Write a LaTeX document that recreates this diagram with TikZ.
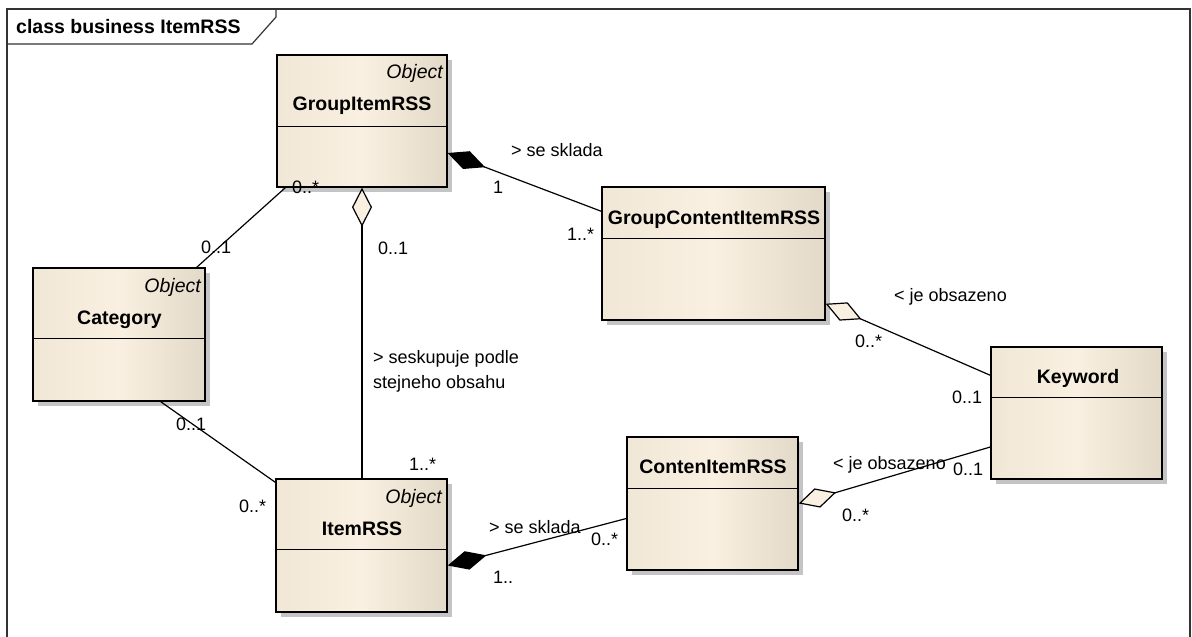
\documentclass[tikz,border=0pt]{standalone}
\usepackage{fontspec}
\setmainfont{Liberation Sans}
\usetikzlibrary{arrows.meta,shadows}

\definecolor{classleft}{HTML}{F1E7D7}
\definecolor{classmid}{HTML}{FAF0E1}
\definecolor{classright}{HTML}{E3D9C8}
\definecolor{shadowgray}{HTML}{C4C4C4}

\tikzstyle{classbox}=[draw,line width=1.4pt,inner sep=0pt,left color=classleft,right color=classright,middle color=classmid,drop shadow={shadow xshift=5pt,shadow yshift=-5pt,fill=shadowgray,opacity=1}]
\tikzstyle{clsname}=[font=\bfseries\fontsize{19.5}{22}\selectfont,inner sep=0pt,anchor=base]
\tikzstyle{stereo}=[font=\itshape\fontsize{19.5}{22}\selectfont,inner sep=0pt,anchor=base east]
\tikzstyle{mult}=[font=\fontsize{18}{25}\selectfont,inner sep=0pt,anchor=base west]
\tikzstyle{divider}=[draw,line width=1.4pt]
\tikzstyle{assoc}=[draw,line width=1.2pt]
\tikzstyle{compose}=[assoc,{Diamond[length=40pt,width=19pt,fill=black]}-]
\tikzstyle{aggregate}=[assoc,{Diamond[length=39pt,width=20pt,fill=classmid]}-]

\begin{document}
\begin{tikzpicture}[x=1pt,y=-1pt]
	\useasboundingbox (0,0) rectangle (1192,637);
	% frame with the diagram title
	\draw[line width=1.4pt,black!80] (7,637) -- (7,9) -- (1190,9) -- (1190,637);
	\draw[line width=1.2pt,black!80] (7,44) -- (252,44) -- (276,17) -- (276,9);
	\node[clsname,anchor=base west] (title) at (16,33) {class business ItemRSS};

	% classes
	\node[classbox,minimum width=170pt,minimum height=132pt] (gir) at (362,121) {};
	\node[classbox,minimum width=223pt,minimum height=133pt] (gcir) at (713.5,253.5) {};
	\node[classbox,minimum width=172pt,minimum height=133pt] (cat) at (119,334.5) {};
	\node[classbox,minimum width=171pt,minimum height=132pt] (kw) at (1076.5,413) {};
	\node[classbox,minimum width=171pt,minimum height=133pt] (item) at (361.5,545.5) {};
	\node[classbox,minimum width=171pt,minimum height=133pt] (cir) at (712.5,503.5) {};
	\foreach \cls/\off in {gir/72, gcir/52, cat/71, kw/51, item/71, cir/52}
		\path[divider] ([yshift=-\off pt]\cls.north west) -- ([yshift=-\off pt]\cls.north east);

	% class names and stereotypes
	\node[stereo] (girst) at (443,78) {Object};
	\node[clsname] (girname) at (362,110) {GroupItemRSS};
	\node[clsname] (gcirname) at (714,224) {GroupContentItemRSS};
	\node[stereo] (catst) at (201,292) {Object};
	\node[clsname] (catname) at (119.5,324) {Category};
	\node[clsname] (kwname) at (1078,383) {Keyword};
	\node[stereo] (itemst) at (442,503) {Object};
	\node[clsname] (itemname) at (362,535) {ItemRSS};
	\node[clsname] (cirname) at (713,473) {ContenItemRSS};

	% associations
	\path[assoc] ([xshift=9pt]gir.south west) -- ([xshift=-9pt]cat.north east);
	\path[assoc] ([xshift=-45pt]cat.south east) -- ([yshift=-4pt]item.north west);
	\path[aggregate] (gir.south) -- (gir.south |- item.north);
	\path[compose] ([yshift=-32pt]gir.east) -- ([yshift=-25pt]gcir.north west);
	\path[aggregate] ([yshift=17pt]gcir.south east) -- ([yshift=-29pt]kw.north west);
	\path[aggregate] (cir.east) -- ([yshift=-34pt]kw.west);
	\path[compose] ([yshift=-20pt]item.east) -- ([yshift=-15pt]cir.west);

	% roles and multiplicities
	\node[mult] (m1) at (292,193) {0..*};
	\node[mult] (m2) at (201,253) {0..1};
	\node[mult] (m3) at (378,254) {0..1};
	\node[mult] (m4) at (409,470) {1..*};
	\node[mult,anchor=west,align=left] (l1) at (373,371) {> seskupuje podle\\stejneho obsahu};
	\node[mult] (l2) at (511,156) {> se sklada};
	\node[mult] (m5) at (493,193) {1};
	\node[mult] (m6) at (567,240) {1..*};
	\node[mult] (l3) at (894,301) {< je obsazeno};
	\node[mult] (m7) at (855,347) {0..*};
	\node[mult] (m8) at (952,403) {0..1};
	\node[mult] (l4) at (833,469) {< je obsazeno};
	\node[mult] (m9) at (953,475) {0..1};
	\node[mult] (m10) at (842,521) {0..*};
	\node[mult] (l5) at (489,533) {> se sklada};
	\node[mult] (m11) at (591,545) {0..*};
	\node[mult] (m12) at (493,583) {1..};
	\node[mult] (m13) at (176,430) {0..1};
	\node[mult] (m14) at (239,512) {0..*};
\end{tikzpicture}
\end{document}
